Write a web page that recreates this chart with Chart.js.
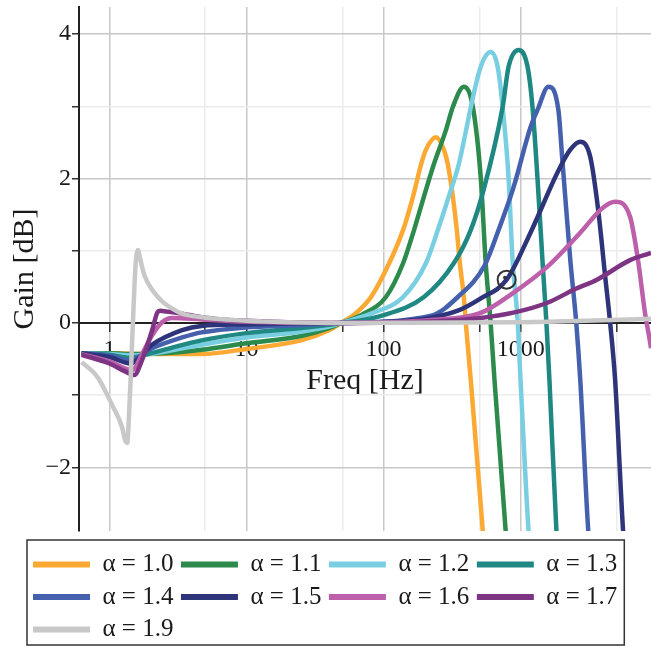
<!DOCTYPE html>
<html>
<head>
<meta charset="utf-8">
<script src="https://cdn.jsdelivr.net/npm/chart.js@4.4.1/dist/chart.umd.min.js"></script>
<style>
  html, body { margin: 0; padding: 0; background: #fff; }
  #wrap { width: 651px; height: 649px; }
</style>
</head>
<body>
<div id="wrap"><canvas id="gain"></canvas></div>
<script>
// curve labels and colours
const alphas = ['1.0', '1.1', '1.2', '1.3', '1.4', '1.5', '1.6', '1.7', '1.9'];
const colors = ['#fba933', '#2b8a4c', '#79cfe1', '#1f8883', '#4561ae', '#2e3479', '#bd5fab', '#7d3583', '#c8c8c8'];

// frequency [Hz] / gain [dB]
const freq10 = [0.627, 1, 2, 4.7, 10, 25, 40, 49, 63, 81, 110, 139, 164, 188, 204, 241, 275, 294, 320, 342, 360, 385, 398, 433, 529, 570];
const gain10 = [-0.42, -0.42, -0.43, -0.43, -0.36, -0.24, -0.1, 0, 0.14, 0.36, 0.83, 1.29, 1.75, 2.2, 2.4, 2.57, 2.4, 2.2, 1.75, 1.29, 0.83, 0.36, 0, -0.8, -2.87, -3.6];

const freq11 = [0.627, 1, 1.5, 2.5, 4.7, 10, 25, 40, 49, 70, 104, 139, 167, 197, 233, 285, 320, 385, 448, 512, 556, 585, 604, 645, 777, 840];
const gain11 = [-0.42, -0.42, -0.43, -0.42, -0.37, -0.28, -0.18, -0.07, 0, 0.12, 0.36, 0.83, 1.29, 1.75, 2.2, 2.67, 2.99, 3.27, 2.99, 2.0, 0.83, 0.32, 0, -0.8, -2.87, -3.6];

const freq12 = [0.627, 1, 1.5, 2, 3, 4.7, 10, 25, 40, 49, 81, 139, 204, 249, 299, 354, 400, 433, 512, 604, 679, 739, 817, 873, 950, 998, 1141, 1230];
const gain12 = [-0.42, -0.43, -0.45, -0.43, -0.37, -0.3, -0.2, -0.12, -0.05, 0, 0.13, 0.36, 0.83, 1.29, 1.75, 2.2, 2.67, 2.99, 3.55, 3.75, 3.55, 2.99, 2.0, 0.87, 0.04, -0.79, -2.87, -3.6];

const freq13 = [0.627, 1, 1.4, 2, 3, 4.7, 10, 25, 49, 96, 197, 326, 433, 538, 739, 817, 966, 1122, 1220, 1327, 1442, 1542, 1622, 1823, 1950];
const gain13 = [-0.42, -0.44, -0.48, -0.42, -0.33, -0.24, -0.14, -0.07, 0, 0.1, 0.36, 0.83, 1.29, 1.85, 2.99, 3.55, 3.78, 3.55, 2.99, 2.0, 0.87, 0, -0.79, -2.87, -3.6];

const freq14 = [0.627, 1, 1.4, 2.05, 3.4, 4.7, 10, 25, 49, 222, 348, 547, 691, 888, 1180, 1327, 1595, 1884, 2014, 2302, 2545, 2722, 3111, 3350];
const gain14 = [-0.42, -0.45, -0.52, -0.35, -0.2, -0.13, -0.06, -0.03, 0, 0.1, 0.36, 0.8, 1.29, 1.88, 2.71, 2.95, 3.27, 2.95, 2.26, 0.87, 0, -0.79, -2.87, -3.6];

const freq15 = [0.627, 1, 1.42, 2.05, 3.39, 4.7, 10, 25, 49, 200, 348, 512, 790, 1180, 1853, 2302, 2722, 3218, 3680, 4138, 4497, 4889, 5585, 6000];
const gain15 = [-0.42, -0.47, -0.56, -0.3, -0.1, -0.04, -0.02, -0.005, 0, 0.06, 0.17, 0.34, 0.6, 1.25, 2.08, 2.4, 2.51, 2.3, 1.56, 0.64, 0, -0.79, -2.87, -3.6];

const freq16 = [0.627, 1, 1.47, 1.74, 2.05, 2.42, 2.87, 4.7, 10, 25, 49, 222, 512, 888, 1567, 2722, 4000, 4889, 6282, 7180, 8075, 8930, 9800];
const gain16 = [-0.43, -0.53, -0.65, -0.42, -0.17, 0.01, 0.07, 0.05, 0.02, 0.005, 0, 0.04, 0.14, 0.42, 0.78, 1.25, 1.6, 1.68, 1.47, 0.87, 0.14, -0.35, -1.0];

const freq17 = [0.627, 1, 1.3, 1.52, 1.74, 2.05, 2.23, 2.35, 2.6, 3.39, 4.7, 6.6, 10, 20, 49, 222, 512, 918, 1567, 2500, 3604, 6282, 8930];
const gain17 = [-0.44, -0.56, -0.67, -0.72, -0.5, -0.1, 0.14, 0.17, 0.16, 0.13, 0.08, 0.05, 0.03, 0.01, 0, 0.02, 0.07, 0.15, 0.28, 0.47, 0.6, 0.87, 0.97];

const freq19 = [0.627, 0.82, 1.05, 1.24, 1.3, 1.35, 1.38, 1.43, 1.48, 1.53, 1.57, 1.61, 1.68, 1.8, 2.05, 2.42, 2.87, 3.39, 4.7, 10, 20, 49, 1000, 3000, 8930];
const gain19 = [-0.54, -0.75, -1.14, -1.45, -1.62, -1.66, -1.4, -0.75, -0.05, 0.6, 0.92, 1.01, 0.88, 0.66, 0.46, 0.3, 0.2, 0.13, 0.08, 0.03, 0.01, 0, 0.01, 0.03, 0.06];

// the circled point on the alpha = 1.5 curve
const markerFreq = [790];
const markerGain = [0.6];

// axes
const xGrid = [1, 5, 10, 50, 100, 500, 1000, 5000];
const xLabels = [1, 10, 100, 1000];
const yGrid = [-2, -1, 0, 1, 2, 3, 4];
const yLabels = [-2, 0, 2, 4];

const freqs = [freq10, freq11, freq12, freq13, freq14, freq15, freq16, freq17, freq19];
const gains = [gain10, gain11, gain12, gain13, gain14, gain15, gain16, gain17, gain19];

Chart.defaults.font.family = "'Liberation Serif', 'Times New Roman', serif";
Chart.defaults.color = '#1a1a1a';

const datasets = alphas.map((a, k) => ({
    label: 'α = ' + a,
    data: freqs[k].map((f, i) => ({ x: f, y: gains[k][i] })),
    borderColor: colors[k],
    backgroundColor: colors[k],
    borderWidth: 4.5,
    pointRadius: 0,
    cubicInterpolationMode: 'monotone',
    order: alphas.length - k   // later curves on top
}));

datasets.push({
    data: markerFreq.map((f, i) => ({ x: f, y: markerGain[i] })),
    showLine: false,
    pointRadius: 9,
    pointBorderWidth: 2,
    pointBorderColor: '#333',
    pointBackgroundColor: 'rgba(0,0,0,0)',
    order: -1
});
datasets.push({
    data: markerFreq.map((f, i) => ({ x: f * 0.97, y: markerGain[i] + 0.03 })),
    showLine: false,
    pointRadius: 1.8,
    pointBorderWidth: 0,
    pointBackgroundColor: '#333',
    order: -2
});

// box round the legend
const legendFrame = {
    id: 'legendFrame',
    afterDraw(chart) {
        const boxes = chart.legend.legendHitBoxes;
        if (!boxes || !boxes.length) return;
        const l = Math.min(...boxes.map(b => b.left));
        const t = Math.min(...boxes.map(b => b.top));
        const r = Math.max(...boxes.map(b => b.left + b.width));
        const b = Math.max(...boxes.map(b => b.top + b.height));
        const ctx = chart.ctx;
        ctx.save();
        ctx.strokeStyle = '#333';
        ctx.lineWidth = 1.5;
        ctx.strokeRect(l - 6, t - 12, r - l + 13, b - t + 15);
        ctx.restore();
    }
};

const decade = v => Math.abs(Math.log10(v) - Math.round(Math.log10(v))) < 1e-9;

new Chart(document.getElementById('gain'), {
    type: 'line',
    data: { datasets },
    plugins: [legendFrame],
    options: {
        responsive: true,
        maintainAspectRatio: false,
        animation: false,
        events: [],
        layout: { autoPadding: false, padding: { top: 7, left: 25.5, right: 0, bottom: -3 } },
        scales: {
            x: {
                type: 'logarithmic',
                position: { y: 0 },
                min: 0.627,
                max: 8930,
                afterBuildTicks: s => { s.ticks = xGrid.map(v => ({ value: v })); },
                afterFit: s => { s.paddingLeft = 0; s.paddingRight = 0; },
                ticks: {
                    autoSkip: false,
                    maxRotation: 0,
                    padding: 4,
                    font: { size: 24 },
                    callback: v => xLabels.includes(v) ? String(v) : ''
                },
                grid: {
                    color: c => (c.tick && decade(c.tick.value)) ? '#c8c8c8' : '#ececec',
                    lineWidth: 1.5,
                    tickLength: 8,
                    tickColor: '#333',
                    tickWidth: 1.5
                },
                border: { color: '#222', width: 2 },
                title: {
                    display: true,
                    text: 'Freq [Hz]',
                    font: { size: 30, lineHeight: 1 },
                    padding: { top: -2, bottom: 0 }
                }
            },
            y: {
                min: -2.879,
                max: 4.374,
                afterBuildTicks: s => { s.ticks = yGrid.map(v => ({ value: v })); },
                afterFit: s => { s.width = 53.5; s.paddingTop = 0; s.paddingBottom = 0; },
                ticks: {
                    padding: 1,
                    font: { size: 24 },
                    callback: v => yLabels.includes(v) ? (v < 0 ? '\u2212' + (-v) : String(v)) : ''
                },
                grid: {
                    color: c => (c.tick && c.tick.value % 2 === 0) ? '#c8c8c8' : '#ececec',
                    lineWidth: 1.5,
                    tickLength: 7,
                    tickColor: '#333',
                    tickWidth: 1.5
                },
                border: { color: '#222', width: 2 },
                title: {
                    display: true,
                    text: 'Gain [dB]',
                    font: { size: 30, lineHeight: 1 },
                    padding: { top: -15.5, bottom: 0 }
                }
            }
        },
        plugins: {
            tooltip: { enabled: false },
            legend: {
                position: 'bottom',
                align: 'start',
                title: { display: true, text: '', font: { size: 1, lineHeight: 1 }, padding: { top: 12.5, bottom: 0 } },
                labels: {
                    boxWidth: 57,
                    boxHeight: 6,
                    padding: 7.5,
                    color: '#1a1a1a',
                    font: { size: 25 },
                    filter: item => !!item.text,
                    sort: (a, b) => a.datasetIndex - b.datasetIndex,
                    generateLabels: chart => Chart.defaults.plugins.legend.labels.generateLabels(chart)
                        .map(it => Object.assign(it, { lineWidth: 0 }))
                }
            }
        }
    }
});
</script>
</body>
</html>
